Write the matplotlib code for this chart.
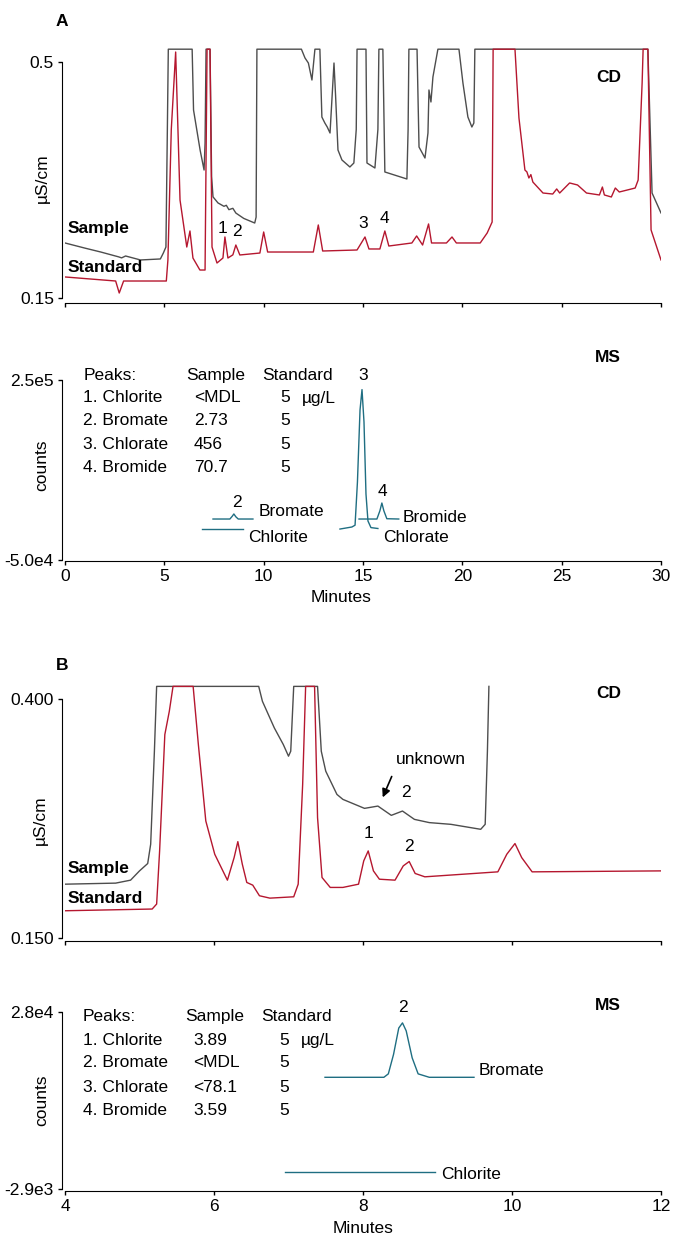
import matplotlib
matplotlib.use('Agg')
import matplotlib.pyplot as plt

plt.rcParams['font.family'] = ['Liberation Sans', 'DejaVu Sans']
plt.rcParams['font.size'] = 12.5

GRAY = '#4d4d4d'
RED = '#b5172f'
TEAL = '#1f6e82'
W, H = 673, 1235

# ---- A: conductivity traces, 0-30 min (uS/cm) ----
a_cd_t_sample = [0, 1.0, 1.8, 2.7, 2.85, 3.05, 3.8, 4.8, 4.95, 5.08,
                 5.15, 5.2, 6.4, 6.47, 6.8, 7.0, 7.05, 7.1, 7.3, 7.38,
                 7.45, 7.7, 8.0, 8.12, 8.25, 8.45, 8.6, 9.0, 9.55, 9.62,
                 9.66, 11.9, 12.08, 12.25, 12.43, 12.58, 12.83, 12.93, 13.08, 13.2,
                 13.34, 13.54, 13.62, 13.74, 13.94, 14.34, 14.54, 14.66, 14.70, 15.15,
                 15.2, 15.6, 15.75, 15.8, 16.0, 16.1, 17.21, 17.27, 17.31, 17.72,
                 17.82, 18.12, 18.27, 18.32, 18.42, 18.52, 18.77, 19.83, 20.03, 20.28,
                 20.48, 20.58, 20.63, 29.34, 29.55, 30.0]
a_cd_sample = [0.2316, 0.2240, 0.2182, 0.2110, 0.2095, 0.2123, 0.2064, 0.2079, 0.2167, 0.2256,
               0.3947, 0.519, 0.519, 0.4288, 0.3695, 0.3398, 0.38, 0.519, 0.519, 0.33,
               0.30, 0.291, 0.286, 0.2875, 0.281, 0.283, 0.276, 0.268, 0.2612, 0.27,
               0.519, 0.519, 0.506, 0.4985, 0.4733, 0.519, 0.519, 0.4184, 0.4095, 0.4036,
               0.3947, 0.4985, 0.45, 0.3695, 0.3547, 0.3443, 0.3502, 0.40, 0.519, 0.519,
               0.3502, 0.3428, 0.40, 0.519, 0.519, 0.3369, 0.3265, 0.40, 0.519, 0.519,
               0.3739, 0.3576, 0.3947, 0.4585, 0.4407, 0.4778, 0.519, 0.519, 0.4689, 0.4184,
               0.4036, 0.4095, 0.519, 0.519, 0.3057, 0.2761]

a_cd_t_standard = [0, 2.55, 2.73, 2.95, 5.1, 5.18, 5.35, 5.57, 5.79, 6.13,
                   6.29, 6.44, 6.79, 7.05, 7.15, 7.3, 7.4, 7.65, 7.95, 8.05,
                   8.2, 8.45, 8.6, 8.8, 9.81, 10.0, 10.2, 12.5, 12.75, 12.97,
                   14.7, 15.1, 15.3, 15.85, 16.1, 16.3, 17.46, 17.7, 18.0, 18.3,
                   18.45, 19.2, 19.48, 19.7, 20.9, 21.25, 21.5, 21.55, 22.65, 22.85,
                   23.15, 23.25, 23.35, 23.45, 23.55, 24.06, 24.55, 24.75, 24.9, 25.4,
                   25.8, 26.25, 26.9, 27.05, 27.15, 27.5, 27.7, 27.9, 28.7, 28.85,
                   29.05, 29.1, 29.34, 29.5, 30.0]
a_cd_standard = [0.1812, 0.1752, 0.1574, 0.1752, 0.1752, 0.2064, 0.40, 0.5148, 0.2953, 0.2256,
                 0.2494, 0.2093, 0.1915, 0.1915, 0.519, 0.519, 0.2256, 0.2019, 0.2093, 0.2405,
                 0.2093, 0.2140, 0.2286, 0.2138, 0.2167, 0.2479, 0.2182, 0.2182, 0.2583, 0.2197,
                 0.2212, 0.2405, 0.2227, 0.2227, 0.2494, 0.2271, 0.2316, 0.2420, 0.2286, 0.2598,
                 0.2316, 0.2316, 0.2405, 0.2316, 0.2316, 0.2464, 0.2627, 0.519, 0.519, 0.4170,
                 0.3398, 0.3370, 0.3280, 0.3330, 0.3220, 0.3057, 0.3042, 0.3117, 0.3057, 0.3206,
                 0.3176, 0.3057, 0.3028, 0.3146, 0.3028, 0.2998, 0.3131, 0.3072, 0.3131, 0.3250,
                 0.4689, 0.519, 0.519, 0.2509, 0.2064]

# ---- A: MS extracted-ion traces (counts) ----
a_ms_bromate_t = [7.45, 8.3, 8.42, 8.5, 8.6, 8.72, 9.46]
a_ms_bromate = [18300, 18300, 23000, 26700, 22000, 18300, 18300]
a_ms_chlorite_t = [6.9, 8.96]
a_ms_chlorite = [1600, 1600]
a_ms_chlorate_t = [13.84, 14.44, 14.6, 14.72, 14.85, 14.95, 15.05, 15.15, 15.25, 15.4, 15.75]
a_ms_chlorate = [1600, 5000, 8000, 80000, 200000, 234000, 180000, 60000, 15000, 4000, 2500]
a_ms_bromide_t = [14.8, 15.7, 15.85, 15.95, 16.05, 16.2, 16.8]
a_ms_bromide = [18300, 18300, 32000, 45000, 32000, 18800, 18300]

# ---- B: conductivity traces, 4-12 min ----
b_cd_t_sample = [4.0, 4.68, 4.88, 5.0, 5.11, 5.15, 5.2, 5.23, 6.6, 6.65,
                 6.81, 6.93, 7.0, 7.03, 7.07, 7.39, 7.44, 7.5, 7.65, 7.73,
                 8.02, 8.2, 8.38, 8.53, 8.69, 8.89, 9.18, 9.58, 9.64, 9.67, 9.69]
b_cd_sample = [0.2063, 0.2074, 0.2105, 0.2202, 0.2279, 0.2481, 0.3454, 0.4132, 0.4132, 0.3976,
               0.3697, 0.3524, 0.3402, 0.3454, 0.4132, 0.4132, 0.3454, 0.3245, 0.3002, 0.2950,
               0.2856, 0.2880, 0.2783, 0.2828, 0.2741, 0.2707, 0.2689, 0.2637, 0.2689, 0.3454, 0.4132]

b_cd_t_standard = [4.0, 5.17, 5.23, 5.27, 5.34, 5.4, 5.45, 5.72, 5.79, 5.89,
                   6.01, 6.18, 6.27, 6.32, 6.38, 6.44, 6.52, 6.61, 6.75, 7.07,
                   7.13, 7.19, 7.23, 7.35, 7.39, 7.45, 7.56, 7.73, 7.94, 8.01,
                   8.07, 8.14, 8.22, 8.43, 8.54, 8.62, 8.70, 8.83, 9.81, 9.93,
                   10.04, 10.13, 10.27, 12.0]
b_cd_standard = [0.1785, 0.1803, 0.1855, 0.2411, 0.3628, 0.3871, 0.4132, 0.4132, 0.3524, 0.2724,
                 0.2376, 0.2105, 0.2341, 0.2508, 0.2272, 0.2081, 0.2053, 0.1942, 0.1917, 0.1931,
                 0.2063, 0.3106, 0.4132, 0.4132, 0.2759, 0.2133, 0.2029, 0.2029, 0.2063, 0.2307,
                 0.2411, 0.2202, 0.2115, 0.2105, 0.2254, 0.2300, 0.2175, 0.2140, 0.2192, 0.2376,
                 0.2488, 0.2341, 0.2192, 0.2202]

# ---- B: MS traces ----
b_ms_bromate_t = [7.49, 8.28, 8.34, 8.41, 8.48, 8.53, 8.58, 8.66, 8.74, 8.89, 9.49]
b_ms_bromate = [16600, 16600, 17200, 20600, 25200, 26100, 24700, 20000, 17200, 16600, 16600]
b_ms_chlorite_t = [6.95, 8.97]
b_ms_chlorite = [155, 155]

# ---- peak table ----
peak_names = ['1. Chlorite', '2. Bromate', '3. Chlorate', '4. Bromide']
a_sample_conc = ['<MDL', '2.73', '456', '70.7']
b_sample_conc = ['3.89', '<MDL', '<78.1', '3.59']
standard_conc = ['5', '5', '5', '5']

fig = plt.figure(figsize=(W / 100, H / 100), dpi=100)


def make_axes(top, bottom, hi, y_hi, lo, y_lo, lo_label, hi_label):
    # axes box given in pixels; y limits chosen so tick values land on y_hi / y_lo
    ax = fig.add_axes([65 / W, 1 - bottom / H, 596 / W, (bottom - top) / H])
    per = (hi - lo) / (y_lo - y_hi)
    ax.set_ylim(lo - (bottom - y_lo) * per, hi + (y_hi - top) * per)
    ax.set_yticks([lo, hi])
    ax.set_yticklabels([lo_label, hi_label])
    ax.spines['left'].set_bounds(lo, hi)
    ax.spines['left'].set_position(('outward', 2))
    for s in ('top', 'right'):
        ax.spines[s].set_visible(False)
    ax.tick_params(length=3, width=1, pad=3)
    ax.patch.set_alpha(0)
    return ax


def ftext(x, y, s, **kw):
    fig.text(x / W, 1 - y / H, s, **kw)


def draw_table(ax, cols, rows, sample):
    ax.text(cols[0], rows[0], 'Peaks:', va='center')
    ax.text(cols[1], rows[0], 'Sample', va='center')
    ax.text(cols[3], rows[0], 'Standard', va='center')
    for i in range(4):
        ax.text(cols[0], rows[i + 1], peak_names[i], va='center')
        ax.text(cols[2], rows[i + 1], sample[i], va='center')
        ax.text(cols[4], rows[i + 1], standard_conc[i], va='center')
    ax.text(cols[5], rows[1], 'µg/L', va='center')


# A - CD
ax1 = make_axes(45, 303, 0.5, 62, 0.15, 298, '0.15', '0.5')
ax1.plot(a_cd_t_sample, a_cd_sample, color=GRAY, lw=1.0)
ax1.plot(a_cd_t_standard, a_cd_standard, color=RED, lw=1.0)
ax1.set_xlim(0, 30)
ax1.set_xticks(range(0, 31, 5))
ax1.tick_params(labelbottom=False)
ax1.text(0.15, 0.2538, 'Sample', fontweight='bold', va='center')
ax1.text(0.15, 0.1945, 'Standard', fontweight='bold', va='center')
for t, v, s in [(7.95, 0.2538, '1'), (8.66, 0.2479, '2'), (15.0, 0.2612, '3'), (16.1, 0.2686, '4')]:
    ax1.text(t, v, s, ha='center', va='center')

# A - MS
ax2 = make_axes(340, 561, 2.5e5, 380, -5.0e4, 560, '-5.0e4', '2.5e5')
ax2.plot(a_ms_bromate_t, a_ms_bromate, color=TEAL, lw=1.0)
ax2.plot(a_ms_chlorite_t, a_ms_chlorite, color=TEAL, lw=1.0)
ax2.plot(a_ms_chlorate_t, a_ms_chlorate, color=TEAL, lw=1.0)
ax2.plot(a_ms_bromide_t, a_ms_bromide, color=TEAL, lw=1.0)
ax2.set_xlim(0, 30)
ax2.set_xticks(range(0, 31, 5))
ax2.set_xlabel('Minutes', labelpad=4)
ax2.xaxis.set_label_coords(0.463, -0.13)
ax2.text(8.66, 46600, '2', ha='center', va='center')
ax2.text(9.76, 30000, 'Bromate', va='center')
ax2.text(9.21, -11700, 'Chlorite', va='center')
ax2.text(15.0, 258000, '3', ha='center', va='center')
ax2.text(16.0, 65000, '4', ha='center', va='center')
ax2.text(17.01, 21600, 'Bromide', va='center')
ax2.text(16.0, -11700, 'Chlorate', va='center')
draw_table(ax2, [0.93, 6.10, 6.49, 9.95, 10.86, 11.90],
           [258300, 220000, 181700, 143300, 105000], a_sample_conc)

# B - CD
ax3 = make_axes(680, 941, 0.400, 699, 0.150, 938, '0.150', '0.400')
ax3.plot(b_cd_t_sample, b_cd_sample, color=GRAY, lw=1.0)
ax3.plot(b_cd_t_standard, b_cd_standard, color=RED, lw=1.0)
ax3.set_xlim(4, 12)
ax3.set_xticks(range(4, 13, 2))
ax3.tick_params(labelbottom=False)
ax3.text(4.03, 0.2232, 'Sample', fontweight='bold', va='center')
ax3.text(4.04, 0.1918, 'Standard', fontweight='bold', va='center')
ax3.text(8.906, 0.3372, 'unknown', ha='center', va='center')
ax3.annotate('', xy=(8.25, 0.2944), xytext=(8.40, 0.3216),
             arrowprops=dict(arrowstyle='-|>', color='black', lw=1.2, mutation_scale=12))
ax3.text(8.57, 0.3017, '2', ha='center', va='center')
ax3.text(8.07, 0.2588, '1', ha='center', va='center')
ax3.text(8.62, 0.2462, '2', ha='center', va='center')

# B - MS
ax4 = make_axes(990, 1191, 2.8e4, 1012, -2.9e3, 1189, '-2.9e3', '2.8e4')
ax4.plot(b_ms_bromate_t, b_ms_bromate, color=TEAL, lw=1.0)
ax4.plot(b_ms_chlorite_t, b_ms_chlorite, color=TEAL, lw=1.0)
ax4.set_xlim(4, 12)
ax4.set_xticks(range(4, 13, 2))
ax4.set_xlabel('Minutes', labelpad=5)
ax4.text(8.54, 28800, '2', ha='center', va='center')
ax4.text(9.55, 17740, 'Bromate', va='center')
ax4.text(9.05, -300, 'Chlorite', va='center')
draw_table(ax4, [4.24, 5.61, 5.72, 6.64, 6.88, 7.16],
           [27130, 23110, 19100, 14900, 10890], b_sample_conc)

# panel letters, detector tags, axis titles
ftext(62, 22, 'A', fontweight='bold', ha='center', va='center')
ftext(62, 665, 'B', fontweight='bold', ha='center', va='center')
ftext(609, 78, 'CD', fontweight='bold', ha='center', va='center')
ftext(609, 694, 'CD', fontweight='bold', ha='center', va='center')
ftext(608, 357, 'MS', fontweight='bold', ha='center', va='center')
ftext(608, 1006, 'MS', fontweight='bold', ha='center', va='center')
ftext(42, 178, 'µS/cm', rotation=90, ha='center', va='center')
ftext(42, 465, 'counts', rotation=90, ha='center', va='center')
ftext(40, 820, 'µS/cm', rotation=90, ha='center', va='center')
ftext(42, 1100, 'counts', rotation=90, ha='center', va='center')

fig.savefig('out.png', dpi=100)
